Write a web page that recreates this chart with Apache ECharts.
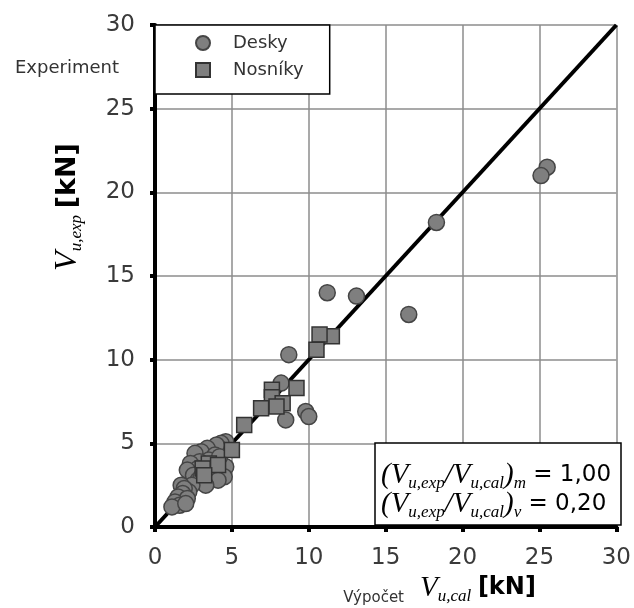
<!DOCTYPE html>
<html><head><meta charset="utf-8">
<script src="https://cdn.jsdelivr.net/npm/echarts/dist/echarts.min.js"></script>
<style>html,body{margin:0;padding:0;background:#fff}#c{width:634px;height:608px}</style>
</head><body><div id="c"></div>
<script>
// Desky (circles) [V_u,cal, V_u,exp]
const deskyData = [
  [25.5,21.5],[25.1,21.0],[18.3,18.2],[11.2,14.0],[13.1,13.8],[16.5,12.7],[8.7,10.3],[8.2,8.6],
  [9.8,6.9],[10.0,6.6],[8.5,6.4],
  [4.6,5.1],[4.3,5.0],[4.0,4.9],[3.4,4.7],[3.0,4.5],[2.6,4.4],[3.9,4.3],[3.5,4.0],[2.9,3.9],
  [2.3,3.8],[2.8,3.5],[3.7,3.6],[4.6,3.6],[4.2,4.2],[2.1,3.4],[2.5,3.1],[3.6,3.1],[4.5,3.0],
  [4.1,2.8],[2.8,2.8],[3.0,3.0],[3.3,2.5],[2.4,2.5],[1.7,2.5],[2.2,2.1],[1.9,2.3],[1.8,2.0],
  [1.5,1.8],[2.1,1.7],[1.3,1.5],[1.6,1.3],[1.1,1.2],[2.0,1.4]
];
// Nosníky (squares)
const nosnikyData = [
  [11.5,11.4],[10.7,11.5],[10.5,10.6],[9.2,8.3],[7.6,8.2],[7.6,7.75],[8.3,7.4],[7.9,7.2],
  [6.9,7.1],[5.8,6.1],[5.0,4.6],[3.5,3.8],[4.1,3.7],[3.1,3.5],[3.2,3.1]
];
// 1:1 reference line
const diagLine = [[0,0],[30,30]];
const seriesNames = ['Desky','Nosníky'];
const statLines = [
  {sub:'m', value:'1,00'},
  {sub:'v', value:'0,20'}
];
const axisMin = 0, axisMax = 30, axisStep = 5;

const chart = echarts.init(document.getElementById('c'), null, {renderer:'canvas'});

const serifRich = {
  p:{fontFamily:'Liberation Serif', fontStyle:'italic', fontSize:29, lineHeight:34, color:'#222', verticalAlign:'middle'},
  v:{fontFamily:'Liberation Serif', fontStyle:'italic', fontSize:29, lineHeight:34, color:'#222', verticalAlign:'middle'},
  s:{fontFamily:'Liberation Serif', fontStyle:'italic', fontSize:17, lineHeight:14, color:'#333', verticalAlign:'bottom'},
  n:{fontFamily:'DejaVu Sans', fontSize:23, lineHeight:34, color:'#333', verticalAlign:'middle'},
  b:{fontFamily:'DejaVu Sans', fontWeight:'bold', fontSize:24, lineHeight:34, color:'#222', verticalAlign:'middle'}
};

const axisCommon = {
  type:'value', min:axisMin, max:axisMax, interval:axisStep,
  axisLine:{show:true, onZero:false, lineStyle:{color:'#000', width:4}},
  axisTick:{show:true, length:5, lineStyle:{color:'#000', width:4}},
  splitLine:{show:true, lineStyle:{color:'#8c8c8c', width:1.5}},
  axisLabel:{fontSize:23, fontFamily:'DejaVu Sans', color:'#3a3a3a'}
};

const statTexts = statLines.map((s, i) => ({
  type:'text', x:381, y:475 + i*29, z:11,
  style:{
    text:'{p|(}{v|V}{s|u,exp}{p|/}{v|V}{s|u,cal}{p|)}{s|' + s.sub + '}{n| = ' + s.value + '}',
    align:'left', verticalAlign:'middle', rich:serifRich
  }
}));

chart.setOption({
  animation:false,
  backgroundColor:'#fff',
  grid:{left:155, right:15, top:25, bottom:81},
  xAxis:Object.assign({}, axisCommon, {axisLabel:Object.assign({}, axisCommon.axisLabel, {margin:20})}),
  yAxis:Object.assign({}, axisCommon, {axisLabel:Object.assign({}, axisCommon.axisLabel, {margin:20})}),
  legend:{
    data:seriesNames, orient:'vertical', left:155, top:25,
    backgroundColor:'#fff', borderColor:'#000', borderWidth:1.5,
    padding:[8,26,14,40], itemGap:7, itemWidth:14, itemHeight:14,
    textStyle:{fontSize:18, fontFamily:'DejaVu Sans', color:'#333', padding:[0,0,0,18], lineHeight:20}
  },
  series:[
    {type:'line', data:diagLine, symbol:'none', silent:true, z:1,
     lineStyle:{color:'#000', width:4}},
    {name:seriesNames[0], type:'scatter', data:deskyData, symbol:'circle', symbolSize:16, z:3,
     itemStyle:{color:'#7f7f7f', borderColor:'#454545', borderWidth:1.5, opacity:1}},
    {name:seriesNames[1], type:'scatter', data:nosnikyData, symbol:'rect', symbolSize:15, z:4,
     itemStyle:{color:'#7f7f7f', borderColor:'#333', borderWidth:1.5, opacity:1}}
  ],
  graphic:[
    {type:'text', x:15, y:68, style:{text:'Experiment', fontSize:18, fontFamily:'DejaVu Sans', fill:'#333', align:'left', verticalAlign:'middle'}},
    {type:'text', x:68, y:207, rotation:Math.PI/2,
     style:{text:'{v|V}{s|u,exp}  {b|[kN]}', align:'center', verticalAlign:'middle',
            rich:Object.assign({}, serifRich, {v:Object.assign({}, serifRich.v, {fontSize:32}), b:Object.assign({}, serifRich.b, {fontSize:27})})}},
    {type:'text', x:404, y:598, style:{text:'Výpočet', fontSize:15, fontFamily:'DejaVu Sans', fill:'#333', align:'right', verticalAlign:'middle'}},
    {type:'text', x:420, y:588,
     style:{text:'{v|V}{s|u,cal}  {b|[kN]}', align:'left', verticalAlign:'middle', rich:serifRich}},
    {type:'rect', z:10, shape:{x:375, y:443, width:246, height:82},
     style:{fill:'#fff', stroke:'#000', lineWidth:1.5}}
  ].concat(statTexts)
});
</script></body></html>
